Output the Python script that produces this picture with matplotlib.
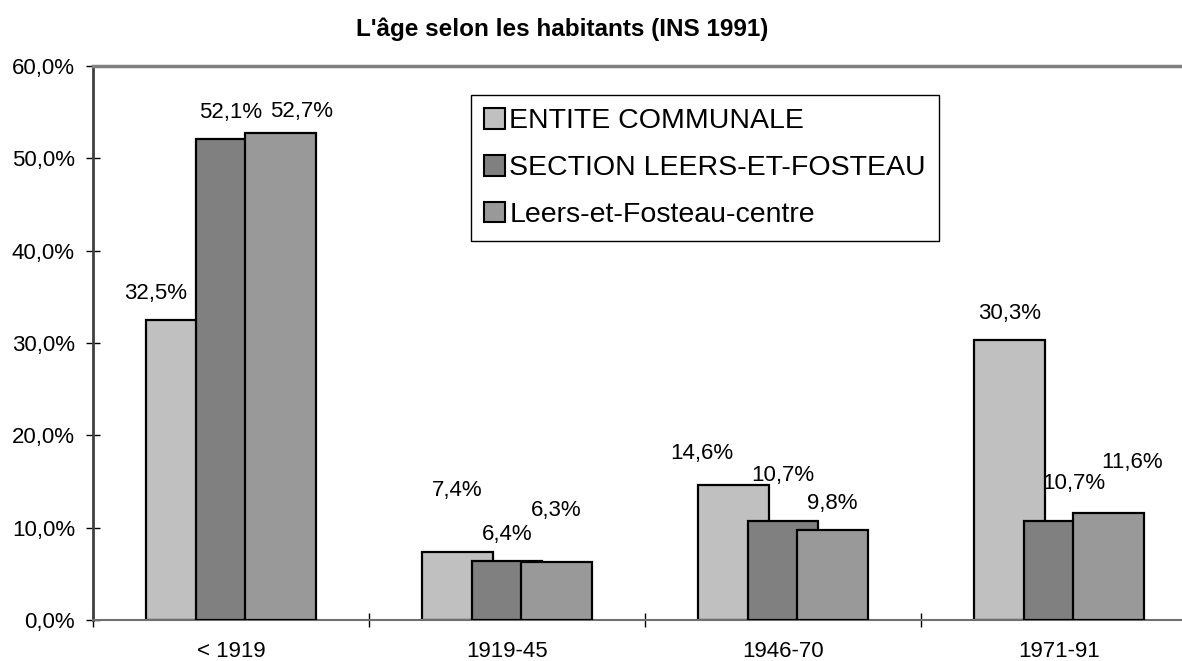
import matplotlib.pyplot as plt
import numpy as np

plt.rcParams['font.family'] = ['Liberation Sans', 'DejaVu Sans']

# data
categories = ['< 1919', '1919-45', '1946-70', '1971-91']
series_names = ['ENTITE COMMUNALE', 'SECTION LEERS-ET-FOSTEAU', 'Leers-et-Fosteau-centre']
entite = [32.5, 7.4, 14.6, 30.3]
section = [52.1, 6.4, 10.7, 10.7]
centre = [52.7, 6.3, 9.8, 11.6]
y_ticks = [0, 10, 20, 30, 40, 50, 60]

colors = ['#C0C0C0', '#808080', '#999999']
# label nudges (points), as placed by hand in the original
nudges = [
    [(-19, 0), (0, 0), (15, -3)],
    [(0, 25), (0, 0), (0, 18)],
    [(-23, 4), (0, 14), (0, 0)],
    [(0, 0), (11, 8), (17, 17)],
]

fig = plt.figure(figsize=(11.82, 6.61), dpi=100)
ax = fig.add_axes([93 / 1182, 41 / 661, 1104 / 1182, 554 / 661])

x = np.arange(len(categories))
width = 0.257
step = 0.179
all_series = [entite, section, centre]
for k, vals in enumerate(all_series):
    bars = ax.bar(x + (k - 1) * step, vals, width, color=colors[k],
                  edgecolor='black', linewidth=1.6, zorder=2 + k,
                  label=series_names[k])
    for i, b in enumerate(bars):
        dx, dy = nudges[i][k]
        ax.annotate(f'{vals[i]:.1f}%'.replace('.', ','),
                    (b.get_x() + b.get_width() / 2, b.get_height()),
                    xytext=(dx, 15 + dy), textcoords='offset points',
                    ha='center', va='baseline', fontsize=16, zorder=10)

ax.set_xlim(-0.5, 3.5)
ax.set_ylim(0, 60)
ax.set_yticks(y_ticks)
ax.set_yticklabels([f'{v:.1f}%'.replace('.', ',') for v in y_ticks], fontsize=16)
ax.set_xticks(np.arange(-0.5, 4, 1))
ax.set_xticklabels([])
ax.set_xticks(x, minor=True)
ax.set_xticklabels(categories, minor=True, fontsize=16)
ax.tick_params(axis='both', which='major', direction='inout', length=10,
               width=1, color='black', pad=8)
ax.tick_params(axis='x', which='minor', length=0, pad=15)

ax.spines['right'].set_visible(False)
ax.spines['left'].set_color('#404040')
ax.spines['left'].set_linewidth(2)
ax.spines['bottom'].set_color('#707070')
ax.spines['bottom'].set_linewidth(1.5)
ax.spines['top'].set_color('#808080')
ax.spines['top'].set_linewidth(2.5)

leg = ax.legend(loc='upper left', bbox_to_anchor=(378 / 1104, 1 - 29 / 554),
                fontsize=20.5, frameon=True, fancybox=False, framealpha=1,
                edgecolor='black', handlelength=0.75, handleheight=0.75,
                handletextpad=0.15, labelspacing=0.72, borderpad=0.45,
                borderaxespad=0)
leg.get_frame().set_linewidth(1)
for h in leg.legend_handles:
    h.set_linewidth(1.5)

fig.text(562 / 1182, 625 / 661, "L'âge selon les habitants (INS 1991)",
         ha='center', va='baseline', fontsize=17.5, fontweight='bold')

fig.savefig('out.png', dpi=100)
